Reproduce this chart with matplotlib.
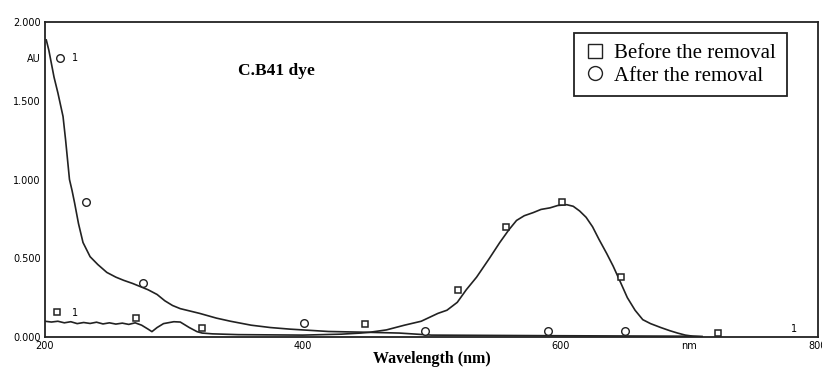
import matplotlib.pyplot as plt
from matplotlib.lines import Line2D

# spectrum before the removal (wavelength nm, absorbance)
before_nm = [200, 205, 210, 215, 220, 225, 230, 235, 240, 245, 250, 255, 260, 265,
             270, 275, 280, 283, 287, 292, 300, 305, 312, 318, 322, 330, 350, 400,
             430, 445, 452, 465, 479, 492, 505, 512, 520, 527, 535, 545, 553, 560,
             566, 572, 579, 585, 592, 598, 605, 610, 615, 620, 625, 630, 636, 641,
             646, 652, 658, 664, 670, 678, 685, 691, 697, 703, 710]
before_abs = [0.10, 0.095, 0.10, 0.09, 0.097, 0.085, 0.092, 0.086, 0.094, 0.083, 0.09,
              0.082, 0.088, 0.08, 0.09, 0.075, 0.05, 0.034, 0.06, 0.085, 0.097, 0.095,
              0.06, 0.034, 0.025, 0.02, 0.015, 0.012, 0.018, 0.025, 0.03, 0.045, 0.075,
              0.10, 0.15, 0.17, 0.22, 0.30, 0.38, 0.50, 0.60, 0.68, 0.74, 0.77, 0.79,
              0.81, 0.82, 0.835, 0.84, 0.83, 0.80, 0.76, 0.70, 0.62, 0.53, 0.45, 0.36,
              0.25, 0.17, 0.11, 0.085, 0.06, 0.04, 0.025, 0.012, 0.005, 0.002]

# spectrum after the removal
after_nm = [201, 203, 207, 210, 214, 216, 219, 221, 223, 226, 229.5, 235, 241, 248,
            255, 261, 268, 274, 280, 287, 293, 299, 305, 320, 333, 344, 360, 375, 390,
            420, 450, 475, 500, 600, 700, 710]
after_abs = [1.886, 1.82, 1.65, 1.55, 1.40, 1.25, 1.0, 0.93, 0.85, 0.72, 0.60, 0.51,
             0.46, 0.41, 0.38, 0.36, 0.34, 0.32, 0.30, 0.27, 0.23, 0.20, 0.18, 0.15,
             0.12, 0.10, 0.075, 0.06, 0.05, 0.035, 0.03, 0.025, 0.012, 0.008, 0.005,
             0.003]

# identification symbols
sq_nm = [209, 270.6, 322, 448, 520.6, 558, 601, 647, 722.5]
sq_abs = [0.16, 0.12, 0.06, 0.08, 0.30, 0.70, 0.86, 0.38, 0.025]
ci_nm = [211.6, 232, 276, 401, 495, 590.5, 650]
ci_abs = [1.77, 0.86, 0.34, 0.09, 0.04, 0.04, 0.04]

xticks = [200, 400, 600, 700, 800]
xticklabels = ['200', '400', '600', 'nm', '800']
yticks = [0, 0.5, 1.0, 1.5, 1.77, 2.0]
yticklabels = ['0.000', '0.500', '1.000', '1.500', 'AU', '2.000']

fig = plt.figure(figsize=(8.22, 3.67), dpi=100)
ax = fig.add_axes([45/822, 30/367, 773/822, 315/367])

ax.plot(before_nm, before_abs, color='#222222', lw=1.2)
ax.plot(after_nm, after_abs, color='#222222', lw=1.2)
ax.plot(sq_nm, sq_abs, ls='none', marker='s', ms=5, mfc='white', mec='#222222', mew=1.1)
ax.plot(ci_nm, ci_abs, ls='none', marker='o', ms=5.5, mfc='white', mec='#222222', mew=1.0)

# curve numbers
ax.text(221, 1.77, '1', fontsize=7, va='center', ha='left')
ax.text(221, 0.15, '1', fontsize=7, va='center', ha='left')
ax.text(781, 0.05, '1', fontsize=7, va='center', ha='center')

ax.text(380, 1.69, 'C.B41 dye', fontsize=12.5, fontweight='bold',
        family='Liberation Serif', ha='center', va='center')

ax.set_xlim(200, 800)
ax.set_ylim(0, 2.0)
ax.set_xticks(xticks)
ax.set_xticklabels(xticklabels)
ax.set_yticks(yticks)
ax.set_yticklabels(yticklabels)
ax.tick_params(length=0, labelsize=7, pad=3)
for s in ax.spines.values():
    s.set_linewidth(1.3)
    s.set_color('#222222')

ax.set_xlabel('Wavelength (nm)', fontsize=11.5, fontweight='bold',
              family='Liberation Serif', labelpad=0)

handles = [Line2D([], [], ls='none', marker='s', ms=10, mfc='white', mec='#222222', mew=1.0),
           Line2D([], [], ls='none', marker='o', ms=10, mfc='white', mec='#222222', mew=1.0)]
leg = ax.legend(handles, ['Before the removal', 'After the removal'],
                loc='upper left', bbox_to_anchor=(0.684, 0.965), borderaxespad=0,
                prop={'family': 'Liberation Serif', 'size': 15}, fancybox=False,
                framealpha=1, edgecolor='#222222', handletextpad=0.45, handlelength=1.0,
                labelspacing=0.15, borderpad=0.5)
leg.get_frame().set_linewidth(1.3)

fig.savefig('out.png', dpi=100)
